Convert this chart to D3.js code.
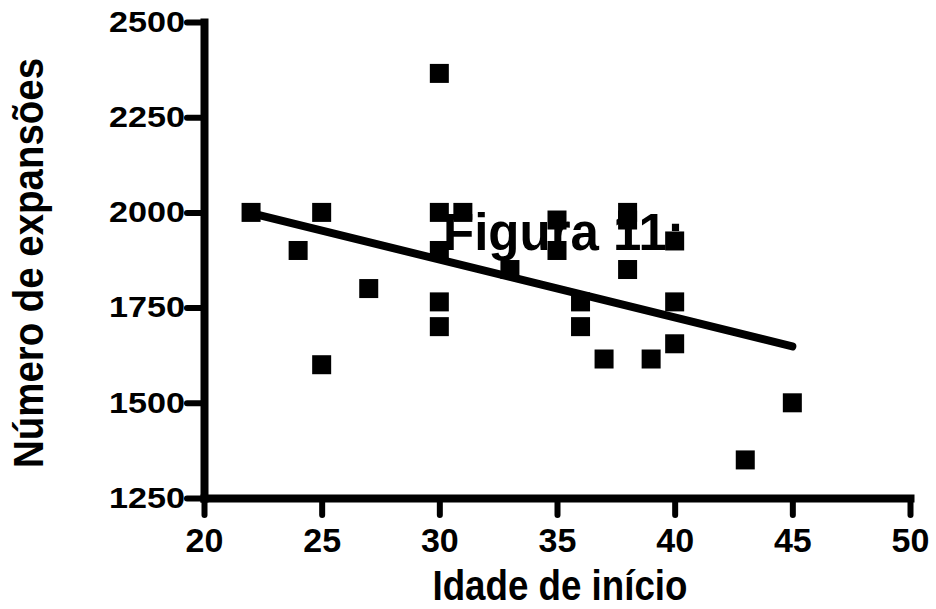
<!DOCTYPE html>
<html>
<head>
<meta charset="utf-8">
<script src="https://cdn.jsdelivr.net/npm/d3@7"></script>
<style>
  body { margin: 0; background: #fff; }
  svg { display: block; }
  text { font-family: Arial, "Liberation Sans", sans-serif; }
</style>
</head>
<body>
<svg id="chart" width="936" height="609"></svg>
<script>
// onset age vs. number of expansions
var ages       = [22, 24, 25, 25, 27, 30, 30, 30, 30, 30, 31, 33, 35, 35, 36, 36, 37, 38, 38, 38, 39, 40, 40, 40, 43, 45];
var expansions = [2000, 1900, 2000, 1600, 1800, 2365, 2000, 1900, 1765, 1700, 2000, 1850, 1980, 1900, 1765, 1700, 1615, 2000, 1980, 1850, 1615, 1925, 1765, 1655, 1350, 1500];

// fitted line
var fitAges = [22, 45];
var fitExpansions = [1998, 1648];

var xTicks = [20, 25, 30, 35, 40, 45, 50];
var yTicks = [1250, 1500, 1750, 2000, 2250, 2500];

var svg = d3.select("#chart");

svg.append("rect").attr("width", 936).attr("height", 609).attr("fill", "#fff");

var x = d3.scaleLinear().domain([20, 50]).range([204, 910]);
var y = d3.scaleLinear().domain([1250, 2500]).range([498, 22]);

// title text sits under the marks
svg.append("text")
    .attr("x", 443)
    .attr("y", 250)
    .attr("font-size", "51px")
    .attr("font-weight", "bold")
    .attr("fill", "#000")
    .text("Figura 11:");

var xAxis = svg.append("g")
    .attr("transform", "translate(0,498)")
    .call(d3.axisBottom(x).tickValues(xTicks).tickSize(17).tickSizeOuter(0).tickPadding(13));

var yAxis = svg.append("g")
    .attr("transform", "translate(204,0)")
    .call(d3.axisLeft(y).tickValues(yTicks).tickFormat(d3.format("d"))
      .tickSize(17).tickSizeOuter(0).tickPadding(2));

[xAxis, yAxis].forEach(function(a) {
  a.select(".domain")
      .style("stroke", "#000")
      .style("stroke-width", "8px")
      .style("stroke-linecap", "square");
  a.selectAll(".tick line")
      .style("stroke", "#000")
      .style("stroke-width", "6px")
      .style("stroke-linecap", "round");
  a.selectAll(".tick text").attr("fill", "#000").attr("font-weight", "bold");
});

xAxis.selectAll(".tick text").attr("font-size", "34px");
yAxis.selectAll(".tick text")
    .attr("font-size", "29px")
    .attr("textLength", 76)
    .attr("lengthAdjust", "spacingAndGlyphs");

// regression line
var line = d3.line()
    .x(function(d) { return x(d[0]); })
    .y(function(d) { return y(d[1]); });

svg.append("path")
    .datum(d3.zip(fitAges, fitExpansions))
    .attr("d", line)
    .attr("fill", "none")
    .attr("stroke", "#000")
    .attr("stroke-width", 8)
    .attr("stroke-linecap", "round");

// square markers
var size = 19;
svg.append("g").selectAll("rect")
    .data(d3.zip(ages, expansions))
    .enter().append("rect")
    .attr("x", function(d) { return x(d[0]) - size / 2; })
    .attr("y", function(d) { return y(d[1]) - size / 2; })
    .attr("width", size)
    .attr("height", size)
    .attr("fill", "#000");

// axis titles
svg.append("text")
    .attr("x", 560)
    .attr("y", 600)
    .attr("text-anchor", "middle")
    .attr("font-size", "42px")
    .attr("font-weight", "bold")
    .attr("textLength", 255)
    .attr("lengthAdjust", "spacingAndGlyphs")
    .text("Idade de início");

svg.append("text")
    .attr("transform", "translate(43,263) rotate(-90)")
    .attr("text-anchor", "middle")
    .attr("font-size", "43px")
    .attr("font-weight", "bold")
    .attr("textLength", 410)
    .attr("lengthAdjust", "spacingAndGlyphs")
    .text("Número de expansões");
</script>
</body>
</html>
